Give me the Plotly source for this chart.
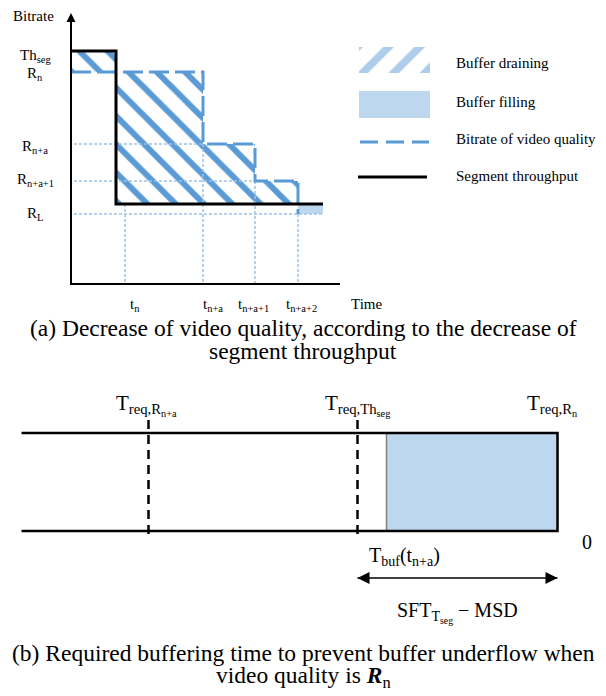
import plotly.graph_objects as go

# ---------------- Panel (a): values (arbitrary units) ----------------
# bitrate levels
th_seg = 233      # segment throughput before the drop
r_n = 212         # R_n
r_na = 140        # R_{n+a}
r_na1 = 103       # R_{n+a+1}
th_low = 80       # segment throughput after the drop
r_l = 70          # R_L
level_values = [th_seg, r_n, r_na, r_na1, r_l]
level_labels = ["Th<sub>seg</sub>", "R<sub>n</sub>", "R<sub>n+a</sub>", "R<sub>n+a+1</sub>", "R<sub>L</sub>"]

# time instants
t_drop = 45       # throughput drop
t_n = 54
t_na = 132
t_na1 = 184
t_na2 = 227
t_end = 252
time_values = [t_n, t_na, t_na1, t_na2]
time_labels = ["t<sub>n</sub>", "t<sub>n+a</sub>", "t<sub>n+a+1</sub>", "t<sub>n+a+2</sub>"]

# ---------------- Panel (b): values ----------------
bar_len = 536          # whole buffer bar (time, measured leftwards from 0)
bar_height = 98
t_buf = 171            # T_buf(t_{n+a})  (filled part)
t_req_th = 200         # T_req,Th_seg
t_req_rna = 409        # T_req,R_{n+a}
t_req_rn = 0           # T_req,R_n
req_values = [t_req_rna, t_req_th, t_req_rn]
req_labels = ["T<sub>req,R<sub>n+a</sub></sub>", "T<sub>req,Th<sub>seg</sub></sub>", "T<sub>req,R<sub>n</sub></sub>"]

# ---------------- styles ----------------
BLUE = "#5b9bd5"
LIGHT = "#bdd7ee"
DOT = "#9dc3e6"
FONT = "Liberation Serif"

fig = go.Figure()

def add(tr, ax=1):
    if ax == 2:
        tr.update(xaxis="x2", yaxis="y2")
    fig.add_trace(tr)

# hatched (buffer draining) regions
hx1 = [0, t_drop, t_drop, 0, 0]
hy1 = [r_n, r_n, th_seg, th_seg, r_n]
hx2 = [t_drop, t_na, t_na, t_na1, t_na1, t_na2, t_na2, t_drop, t_drop]
hy2 = [r_n, r_n, r_na, r_na, r_na1, r_na1, th_low, th_low, r_n]
hatch = dict(shape="\\", size=20, solidity=0.3, fgcolor=BLUE, bgcolor="white", fillmode="replace")
for hx, hy in [(hx1, hy1), (hx2, hy2)]:
    add(go.Scatter(x=hx, y=hy, mode="lines", fill="toself", fillcolor="rgba(0,0,0,0)",
                   fillpattern=hatch, line=dict(width=0), hoverinfo="skip"))

# buffer filling region (a)
add(go.Scatter(x=[t_na2, t_end, t_end, t_na2, t_na2], y=[r_l, r_l, th_low, th_low, r_l],
               mode="lines", fill="toself", fillcolor=LIGHT, line=dict(width=0), hoverinfo="skip"))

# dotted guide lines
dot_style = dict(color=DOT, width=1.5, dash="3px,2px")
for lvl, tt in [(r_na, t_na), (r_na1, t_na1), (r_l, t_end)]:
    add(go.Scatter(x=[3, tt], y=[lvl, lvl], mode="lines", line=dot_style, hoverinfo="skip"))
for tt, top in [(t_n, th_low), (t_na, r_na), (t_na1, r_na1), (t_na2, r_l)]:
    add(go.Scatter(x=[tt, tt], y=[top, 0], mode="lines", line=dot_style, hoverinfo="skip"))

# bitrate of video quality (dashed)
add(go.Scatter(x=[0, t_na, t_na, t_na1, t_na1, t_na2, t_na2],
               y=[r_n, r_n, r_na, r_na, r_na1, r_na1, r_l],
               mode="lines", line=dict(color=BLUE, width=3, dash="20px,6px"), hoverinfo="skip"))

# segment throughput (black)
add(go.Scatter(x=[0, t_drop, t_drop, t_end], y=[th_seg, th_seg, th_low, th_low],
               mode="lines", line=dict(color="black", width=3), hoverinfo="skip"))

# axes of panel (a)
x_axis_end = 269
y_axis_top = 271
add(go.Scatter(x=[0, 0, x_axis_end], y=[y_axis_top - 4, 0, 0], mode="lines",
               line=dict(color="black", width=2), hoverinfo="skip"))
add(go.Scatter(x=[0], y=[y_axis_top], mode="markers",
               marker=dict(symbol="arrow-up", size=9, color="black", line=dict(width=0)), hoverinfo="skip"))

# legend (drawn manually)
lg_x0, lg_x1, lg_tx = 288, 359, 383
add(go.Scatter(x=[lg_x0, lg_x1, lg_x1, lg_x0, lg_x0], y=[211, 211, 237, 237, 211], mode="lines",
               fill="toself", fillcolor="rgba(0,0,0,0)",
               fillpattern=dict(shape="/", size=22, solidity=0.35, fgcolor=BLUE, bgcolor="white"),
               line=dict(width=0), hoverinfo="skip"))
add(go.Scatter(x=[lg_x0, lg_x1, lg_x1, lg_x0, lg_x0], y=[166, 166, 193, 193, 166], mode="lines",
               fill="toself", fillcolor=LIGHT, line=dict(width=0), hoverinfo="skip"))
add(go.Scatter(x=[lg_x0 + 1, lg_x1 - 1], y=[142, 142], mode="lines",
               line=dict(color=BLUE, width=3, dash="18px,8px"), hoverinfo="skip"))
add(go.Scatter(x=[lg_x0 - 1, lg_x1 - 3], y=[107, 107], mode="lines",
               line=dict(color="black", width=3), hoverinfo="skip"))

# ---------------- Panel (b) ----------------
add(go.Scatter(x=[0, t_buf, t_buf, 0, 0], y=[0, 0, bar_height, bar_height, 0], mode="lines",
               fill="toself", fillcolor=LIGHT, line=dict(width=0), hoverinfo="skip"), 2)
add(go.Scatter(x=[t_buf, t_buf], y=[0, bar_height], mode="lines",
               line=dict(color="#808080", width=1.5), hoverinfo="skip"), 2)
add(go.Scatter(x=[bar_len, 0, 0, bar_len], y=[bar_height, bar_height, 0, 0], mode="lines",
               line=dict(color="black", width=2.5), hoverinfo="skip"), 2)
for v in [t_req_rna, t_req_th]:
    add(go.Scatter(x=[v, v], y=[bar_height + 13, -9], mode="lines",
                   line=dict(color="black", width=2.5, dash="9px,6px"), hoverinfo="skip"), 2)
arrow_y = -47
add(go.Scatter(x=[t_req_th, t_req_rn], y=[arrow_y, arrow_y], mode="lines",
               line=dict(color="black", width=1.5), hoverinfo="skip"), 2)
add(go.Scatter(x=[t_req_th, t_req_rn], y=[arrow_y, arrow_y], mode="markers",
               marker=dict(symbol=["arrow-left", "arrow-right"], size=12, color="black", line=dict(width=0)),
               hoverinfo="skip"), 2)

# ---------------- text ----------------
ann = []
def txt(x, y, text, size=15, xref="x", yref="y", xanchor="center", xshift=0, yshift=0):
    ann.append(dict(x=x, y=y, xref=xref, yref=yref, text=text, showarrow=False,
                    xanchor=xanchor, yanchor="middle", xshift=xshift, yshift=yshift,
                    font=dict(family=FONT, size=size, color="black")))

txt(-38, 268, "Bitrate")
txt(295, -20, "Time")
lvl_shift = [-5, -2, -3, 1, 0]
for v, lab, s in zip(level_values, level_labels, lvl_shift):
    txt(-36, v, lab, yshift=s)
t_shift = [10, 10, -2, 3]
for v, lab, s in zip(time_values, time_labels, t_shift):
    txt(v, -21, lab, xshift=s)

for ty, lab in zip([221, 182, 145, 108],
                   ["Buffer draining", "Buffer filling", "Bitrate of video quality", "Segment throughput"]):
    txt(lg_tx, ty, lab, xanchor="left")

for v, lab, s in zip(req_values, req_labels, [-2, 0, -6]):
    txt(v, 126, lab, size=21, xref="x2", yref="y2", xshift=s)
txt(t_req_rn, -11, "0", size=20, xref="x2", yref="y2", xshift=29)
txt(t_buf, -25, "T<sub>buf</sub>(t<sub>n+a</sub>)", size=20, xref="x2", yref="y2", xshift=18)
txt(t_req_th / 2, -81, "SFT<sub>T<sub>seg</sub></sub> \u2212 MSD", size=20, xref="x2", yref="y2")

H = 696.0
captions = [
    (328, "(a) Decrease of video quality, according to the decrease of"),
    (351, "segment throughput"),
    (653, "(b) Required buffering time to prevent buffer underflow when"),
    (677, "video quality is <b><i>R</i></b><sub>n</sub>"),
]
for py, lab in captions:
    txt(0.5, 1 - py / H, lab, size=23.5, xref="paper", yref="paper")

fig.update_layout(
    width=606, height=696, margin=dict(l=0, r=0, t=0, b=0),
    paper_bgcolor="white", plot_bgcolor="rgba(0,0,0,0)", showlegend=False,
    xaxis=dict(domain=[0, 1], range=[-71, 535], visible=False, fixedrange=True),
    yaxis=dict(domain=[0, 1], range=[284 - 696, 284], visible=False, fixedrange=True),
    xaxis2=dict(domain=[0, 1], range=[557.5, 557.5 - 606], visible=False, overlaying="x", anchor="y2"),
    yaxis2=dict(domain=[0, 1], range=[531 - 696, 531], visible=False, overlaying="y", anchor="x2"),
    annotations=ann,
)
fig.write_html("out.html", config={"displayModeBar": False, "staticPlot": True},
               post_script="document.body.style.margin='0';document.body.style.overflow='hidden';")
